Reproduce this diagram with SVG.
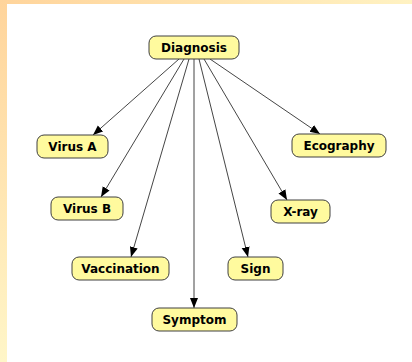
<svg xmlns="http://www.w3.org/2000/svg" width="412" height="362" viewBox="0 0 412 362">
  <defs>
    <linearGradient id="topBand" x1="0" y1="0" x2="1" y2="0">
      <stop offset="0" stop-color="#FFD49B"/>
      <stop offset="1" stop-color="#FFF2C2"/>
    </linearGradient>
    <linearGradient id="leftBand" x1="0" y1="0" x2="0" y2="1">
      <stop offset="0" stop-color="#FFD49B"/>
      <stop offset="1" stop-color="#FFF6C8"/>
    </linearGradient>
    <marker id="arrow" viewBox="0 0 10 10" refX="10" refY="5" markerWidth="10" markerHeight="10" markerUnits="userSpaceOnUse" orient="auto">
      <path d="M0,1 L10,5 L0,9 Z" fill="#000"/>
    </marker>
    <style>
      .node rect { fill: #FFFA9E; stroke: #404040; stroke-width: 1; }
      .node text { font-family: "DejaVu Sans", Verdana, sans-serif; font-weight: bold; font-size: 12px; fill: #000; text-anchor: middle; dominant-baseline: central; }
      .edge { stroke: #303030; stroke-width: 0.9; fill: none; marker-end: url(#arrow); }
    </style>
  </defs>

  <!-- page background with tinted top and left bands -->
  <rect x="0" y="0" width="412" height="362" fill="#FFFFFF"/>
  <rect x="0" y="0" width="412" height="4" fill="url(#topBand)"/>
  <rect x="0" y="0" width="7" height="362" fill="url(#leftBand)"/>

  <g id="connectors">
    <line class="edge" x1="179" y1="59" x2="93" y2="135"/>
    <line class="edge" x1="184" y1="59" x2="101" y2="197"/>
    <line class="edge" x1="189" y1="59" x2="131" y2="257"/>
    <line class="edge" x1="194" y1="59" x2="194" y2="308"/>
    <line class="edge" x1="199" y1="59" x2="248" y2="257"/>
    <line class="edge" x1="204" y1="59" x2="287" y2="200"/>
    <line class="edge" x1="210" y1="59" x2="320" y2="134"/>
  </g>

  <g id="diagnosis" class="node">
    <rect x="149" y="36" width="90" height="23" rx="7"/>
    <text x="194" y="48">Diagnosis</text>
  </g>
  <g id="virus-a" class="node">
    <rect x="37" y="135" width="71" height="23" rx="7"/>
    <text x="72.5" y="147">Virus A</text>
  </g>
  <g id="virus-b" class="node">
    <rect x="51" y="197" width="72" height="23" rx="7"/>
    <text x="87" y="209">Virus B</text>
  </g>
  <g id="vaccination" class="node">
    <rect x="72" y="257" width="97" height="23" rx="7"/>
    <text x="120.5" y="269">Vaccination</text>
  </g>
  <g id="symptom" class="node">
    <rect x="152" y="308" width="85" height="23" rx="7"/>
    <text x="194.5" y="320">Symptom</text>
  </g>
  <g id="sign" class="node">
    <rect x="228" y="257" width="55" height="23" rx="7"/>
    <text x="255.5" y="269">Sign</text>
  </g>
  <g id="x-ray" class="node">
    <rect x="271" y="200" width="59" height="23" rx="7"/>
    <text x="300.5" y="212">X-ray</text>
  </g>
  <g id="ecography" class="node">
    <rect x="292" y="134" width="94" height="23" rx="7"/>
    <text x="339" y="146">Ecography</text>
  </g>
</svg>
